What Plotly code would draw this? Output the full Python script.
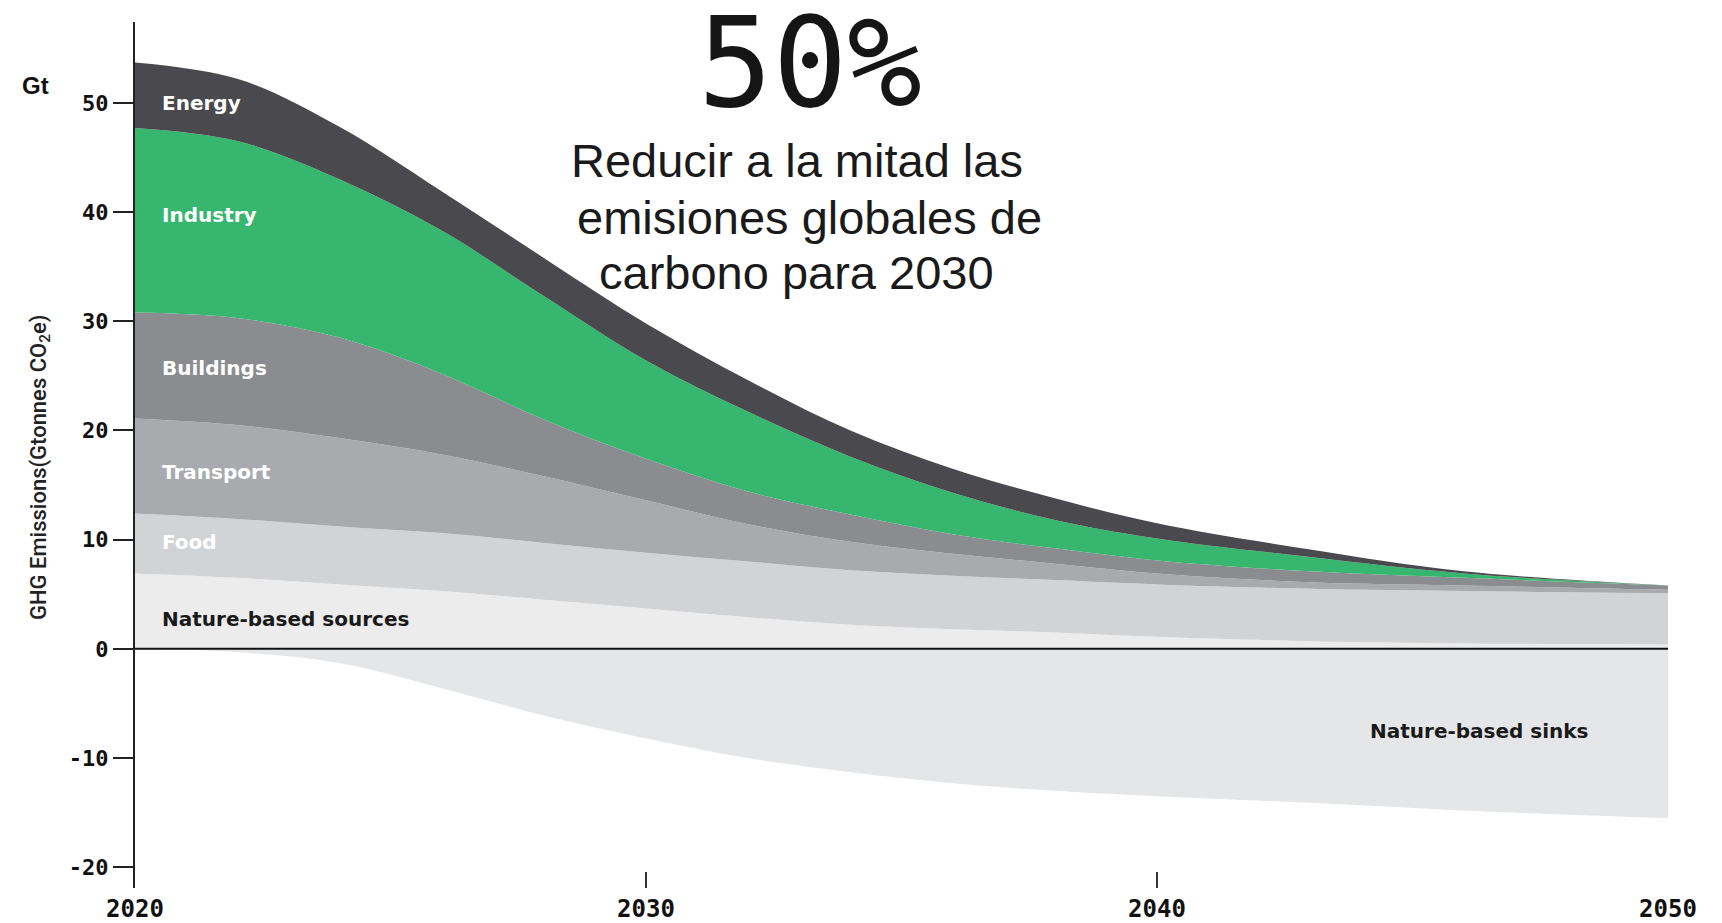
import plotly.graph_objects as go

# ---- data ----
years = [2020, 2022, 2024, 2026, 2028, 2030, 2032, 2034, 2036, 2038, 2040, 2043, 2046, 2050]
nature_sources = [6.9, 6.5, 5.9, 5.3, 4.5, 3.7, 2.9, 2.2, 1.8, 1.5, 1.1, 0.7, 0.5, 0.4]
food = [5.5, 5.4, 5.3, 5.3, 5.2, 5.1, 5.1, 5.0, 4.9, 4.8, 4.8, 4.8, 4.8, 4.7]
transport = [8.7, 8.6, 8.1, 7.2, 6.1, 4.8, 3.4, 2.6, 2.0, 1.5, 1.0, 0.6, 0.5, 0.3]
buildings = [9.7, 9.8, 9.2, 7.4, 5.2, 3.8, 3.0, 2.5, 1.8, 1.4, 1.2, 1.0, 0.7, 0.4]
industry = [16.9, 16.2, 14.5, 13.1, 11.3, 9.0, 7.3, 5.3, 3.8, 2.6, 2.0, 1.3, 0.4, 0.0]
energy = [6.0, 5.7, 4.8, 3.6, 3.5, 3.4, 2.9, 2.4, 2.2, 2.0, 1.4, 0.7, 0.2, 0.0]
nature_sinks = [0.0, -0.3, -1.3, -3.6, -6.1, -8.2, -10.0, -11.3, -12.3, -13.0, -13.5, -14.1, -14.8, -15.5]

x_ticks = [2020, 2030, 2040, 2050]
y_ticks = [-20, -10, 0, 10, 20, 30, 40, 50]

series = [
    ("Nature-based sources", nature_sources, "#ececed"),
    ("Food", food, "#d2d3d5"),
    ("Transport", transport, "#a9aaae"),
    ("Buildings", buildings, "#8b8c90"),
    ("Industry", industry, "#36b66f"),
    ("Energy", energy, "#4a494d"),
]

fig = go.Figure()
for name, vals, col in series:
    fig.add_trace(go.Scatter(
        x=years, y=vals, name=name, mode="lines", stackgroup="pos",
        line=dict(width=0, shape="spline", smoothing=1.0),
        fillcolor=col, hoverinfo="x+y+name",
    ))
fig.add_trace(go.Scatter(
    x=years, y=nature_sinks, name="Nature-based sinks", mode="lines", stackgroup="neg",
    line=dict(width=0, shape="spline", smoothing=1.0),
    fillcolor="#e5e6e8", hoverinfo="x+y+name",
))

# zero line on top of the fills
fig.add_shape(type="line", xref="x", yref="y", x0=2020, x1=2050, y0=0, y1=0,
              line=dict(color="#111111", width=2), layer="above")

label_font = dict(family="DejaVu Sans, sans-serif", size=20, weight="bold")
inner_labels = [
    ("Energy", 50.0, "white"),
    ("Industry", 39.7, "white"),
    ("Buildings", 25.7, "white"),
    ("Transport", 16.2, "white"),
    ("Food", 9.8, "white"),
    ("Nature-based sources", 2.7, "#1a1a1a"),
]
for txt, yv, col in inner_labels:
    fig.add_annotation(text=txt, xref="paper", yref="y", x=0.0163, y=yv,
                       xanchor="left", yanchor="middle", showarrow=False,
                       font=dict(color=col, **label_font))
fig.add_annotation(text="Nature-based sinks", xref="paper", yref="y", x=0.8043, y=-7.5,
                   xanchor="left", yanchor="middle", showarrow=False,
                   font=dict(color="#1a1a1a", **label_font))

# headline texts
fig.add_annotation(text="50%", xref="paper", yref="paper", x=0.4403, y=0.953,
                   xanchor="center", yanchor="middle", showarrow=False,
                   font=dict(family="DejaVu Sans Mono", size=124, color="#151515"))
sub_lines = [("Reducir a la mitad las", 0.4318, 0.8406),
             ("emisiones globales de", 0.4397, 0.7748),
             ("carbono para 2030", 0.4312, 0.7113)]
for txt, xp, yp in sub_lines:
    fig.add_annotation(text=txt, xref="paper", yref="paper", x=xp, y=yp,
                       xanchor="center", yanchor="middle", showarrow=False,
                       font=dict(family="Liberation Sans, Arial, sans-serif", size=47, color="#1a1a1a"))

# axis texts
fig.add_annotation(text="Gt", xref="paper", yref="paper", x=-0.0646, y=0.927,
                   xanchor="center", yanchor="middle", showarrow=False,
                   font=dict(family="Liberation Sans, Arial, sans-serif", size=24, color="#111", weight="bold"))
fig.add_annotation(text="GHG Emissions(Gtonnes CO<sub>2</sub>e)", xref="paper", yref="paper",
                   x=-0.062, y=0.486, textangle=-90, xanchor="center", yanchor="middle",
                   showarrow=False,
                   font=dict(family="Roboto, sans-serif", size=22, color="#222", weight=500))

fig.update_layout(
    width=1722, height=923,
    margin=dict(l=135, r=54, t=22, b=35, autoexpand=False),
    plot_bgcolor="white", paper_bgcolor="white",
    showlegend=False,
    xaxis=dict(range=[2020, 2050], tickvals=x_ticks, ticktext=[str(v) for v in x_ticks],
               ticks="inside", ticklen=16, tickwidth=2, tickcolor="#333",
               showline=False, showgrid=False, zeroline=False, automargin=False,
               tickfont=dict(family="DejaVu Sans Mono", size=24, color="#111", weight="bold"),
               ticklabelstandoff=4),
    yaxis=dict(range=[-21.9, 57.4], tickvals=y_ticks, ticktext=[str(v) for v in y_ticks],
               ticks="outside", ticklen=20, tickwidth=2, tickcolor="#222",
               showline=True, linewidth=2, linecolor="#222", layer="above traces",
               showgrid=False, zeroline=False, automargin=False,
               tickfont=dict(family="DejaVu Sans Mono", size=22, color="#111", weight="bold")),
)

fig.write_html("out.html", config={"displayModeBar": False},
               post_script="document.body.style.margin='0';document.body.style.overflow='hidden';")
